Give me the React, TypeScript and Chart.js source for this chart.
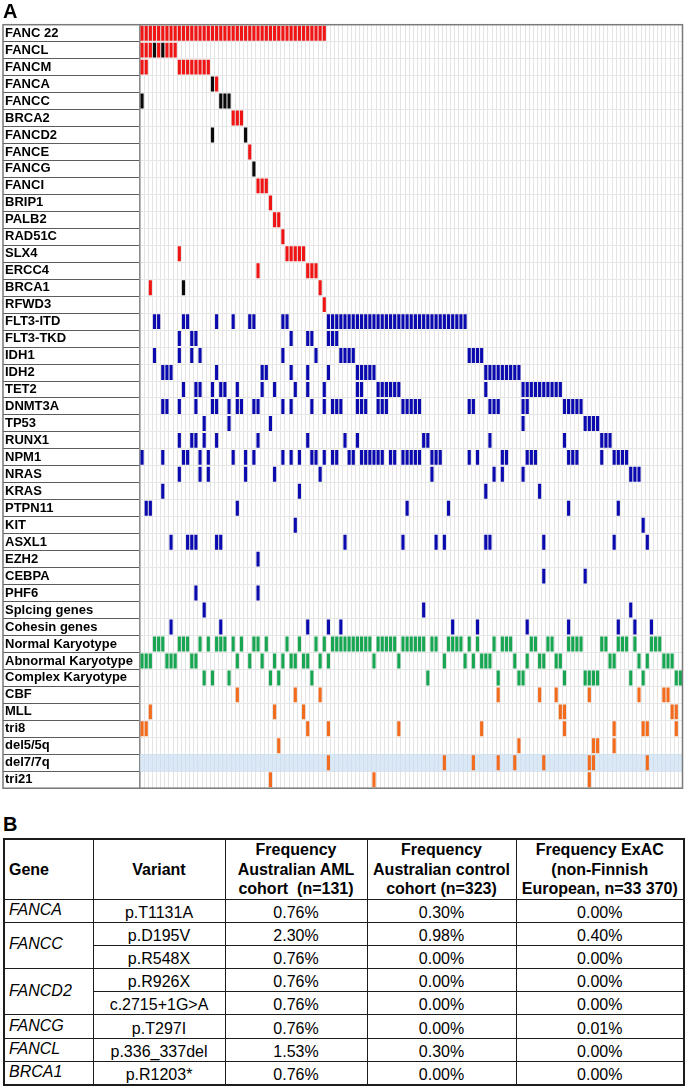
import React, { useEffect, useRef } from 'react';
import { Chart, registerables } from 'chart.js';
Chart.register(...registerables);

// ---------- Panel A data ----------
const rowLabels = [
  'FANC 22', 'FANCL', 'FANCM', 'FANCA', 'FANCC', 'BRCA2', 'FANCD2', 'FANCE', 'FANCG', 'FANCI',
  'BRIP1', 'PALB2', 'RAD51C', 'SLX4', 'ERCC4', 'BRCA1', 'RFWD3', 'FLT3-ITD', 'FLT3-TKD', 'IDH1',
  'IDH2', 'TET2', 'DNMT3A', 'TP53', 'RUNX1', 'NPM1', 'NRAS', 'KRAS', 'PTPN11', 'KIT',
  'ASXL1', 'EZH2', 'CEBPA', 'PHF6', 'Splcing genes', 'Cohesin genes', 'Normal Karyotype',
  'Abnormal Karyotype', 'Complex Karyotype', 'CBF', 'MLL', 'tri8', 'del5/5q', 'del7/7q', 'tri21',
];

const patients = Array.from({ length: 131 }, (_, i) => `P${i + 1}`);

// FANC pathway genes (red = variant, black = variant listed in table B)
const FANC22 = [0,1,2,3,4,5,6,7,8,9,10,11,12,13,14,15,16,17,18,19,20,21,22,23,24,25,26,27,28,29,30,31,32,33,34,35,36,37,38,39,40,41,42,43,44];
const FANCL_red = [0,1,2,4,6,7,8];
const FANCL_black = [3,5];
const FANCM_red = [0,1,9,10,11,12,13,14,15,16];
const FANCA_red = [18];
const FANCA_black = [17];
const FANCC_black = [0,19,20,21];
const BRCA2_red = [22,23,24];
const FANCD2_black = [17,25];
const FANCE_red = [26];
const FANCG_black = [27];
const FANCI_red = [28,29,30];
const BRIP1_red = [31];
const PALB2_red = [32,33];
const RAD51C_red = [34];
const SLX4_red = [9,35,36,37,38,39];
const ERCC4_red = [28,40,41,42];
const BRCA1_red = [2,43];
const BRCA1_black = [10];
const RFWD3_red = [44];

// AML driver genes (blue)
const FLT3ITD = [3,4,10,11,18,22,26,27,34,35,45,46,47,48,49,50,51,52,53,54,55,56,57,58,59,60,61,62,63,64,65,66,67,68,69,70,71,72,73,74,75,76,77,78];
const FLT3TKD = [9,12,13,36,40,41,45,46,47];
const IDH1 = [3,9,12,14,34,42,48,49,50,51,79,80,81,82];
const IDH2 = [5,6,7,18,29,30,36,40,45,52,53,54,55,56,83,84,85,86,87,88,89,90,91];
const TET2 = [10,13,14,17,19,20,23,29,32,37,40,44,52,53,57,58,59,60,61,62,83,92,93,94,95,96,97,98,99,100,101];
const DNMT3A = [5,6,9,13,17,18,21,23,24,27,28,34,36,41,44,46,47,48,52,53,54,57,58,59,63,64,65,66,67,79,80,84,85,86,92,93,102,103,104,105,106];
const TP53 = [15,21,31,92,107,108,109,110];
const RUNX1 = [9,12,13,15,18,28,40,49,52,68,69,84,102,111,112,113];
const NPM1 = [0,5,10,11,14,16,22,25,27,34,36,38,41,42,44,46,47,50,51,53,54,55,56,57,58,60,61,63,64,65,66,67,70,71,72,79,81,87,88,93,94,95,103,104,105,111,114,115,116,117];
const NRAS = [9,14,16,25,32,43,70,85,87,92,118,119,120];
const KRAS = [5,38,83,96];
const PTPN11 = [1,2,23,64,74,103,115];
const KIT = [37,121];
const ASXL1 = [7,11,12,13,18,19,49,63,71,73,83,84,97,114,122];
const EZH2 = [28];
const CEBPA = [97,107];
const PHF6 = [13,28];
const SPLICING = [15,68,118];
const COHESIN = [7,19,40,45,48,75,81,93,103,115,119,123];

// Karyotype (green)
const NORMAL_KARYO = [3,4,5,9,10,11,14,16,18,19,20,22,24,27,28,30,35,38,42,44,46,47,48,49,50,51,52,53,54,55,57,58,59,60,61,63,64,65,66,67,68,70,71,74,75,76,77,79,81,85,87,88,89,94,95,98,99,103,104,105,106,111,112,115,116,117,119,123,124,125];
const ABNORMAL_KARYO = [0,1,2,6,7,8,12,13,23,26,29,32,34,36,37,39,40,43,45,56,62,73,78,80,82,83,84,90,93,96,97,100,101,113,114,120,122,126,127,128];
const COMPLEX_KARYO = [15,17,21,31,33,41,69,86,91,92,102,107,108,109,110,118,121,129,130];

// Cytogenetic lesions (orange)
const CBF = [23,37,43,86,96,100,108,120,126,127];
const MLL = [2,32,39,101,102,128,129];
const TRI8 = [0,1,40,45,62,82,102,114,121,122,129];
const DEL5 = [33,91,109,110,114];
const DEL7 = [45,73,80,86,90,97,108,109,122];
const TRI21 = [31,56,108];

const RED = '#f01515';
const BLACK = '#0a0a0a';
const BLUE = '#0a0aae';
const GREEN = '#18a653';
const ORANGE = '#f36b1c';
const BAND = 'rgba(204,222,242,0.7)';

const series: [string, number[], string][] = [
  ['FANC 22', FANC22, RED],
  ['FANCL', FANCL_red, RED], ['FANCL', FANCL_black, BLACK],
  ['FANCM', FANCM_red, RED],
  ['FANCA', FANCA_red, RED], ['FANCA', FANCA_black, BLACK],
  ['FANCC', FANCC_black, BLACK],
  ['BRCA2', BRCA2_red, RED],
  ['FANCD2', FANCD2_black, BLACK],
  ['FANCE', FANCE_red, RED],
  ['FANCG', FANCG_black, BLACK],
  ['FANCI', FANCI_red, RED],
  ['BRIP1', BRIP1_red, RED],
  ['PALB2', PALB2_red, RED],
  ['RAD51C', RAD51C_red, RED],
  ['SLX4', SLX4_red, RED],
  ['ERCC4', ERCC4_red, RED],
  ['BRCA1', BRCA1_red, RED], ['BRCA1', BRCA1_black, BLACK],
  ['RFWD3', RFWD3_red, RED],
  ['FLT3-ITD', FLT3ITD, BLUE],
  ['FLT3-TKD', FLT3TKD, BLUE],
  ['IDH1', IDH1, BLUE],
  ['IDH2', IDH2, BLUE],
  ['TET2', TET2, BLUE],
  ['DNMT3A', DNMT3A, BLUE],
  ['TP53', TP53, BLUE],
  ['RUNX1', RUNX1, BLUE],
  ['NPM1', NPM1, BLUE],
  ['NRAS', NRAS, BLUE],
  ['KRAS', KRAS, BLUE],
  ['PTPN11', PTPN11, BLUE],
  ['KIT', KIT, BLUE],
  ['ASXL1', ASXL1, BLUE],
  ['EZH2', EZH2, BLUE],
  ['CEBPA', CEBPA, BLUE],
  ['PHF6', PHF6, BLUE],
  ['Splcing genes', SPLICING, BLUE],
  ['Cohesin genes', COHESIN, BLUE],
  ['Normal Karyotype', NORMAL_KARYO, GREEN],
  ['Abnormal Karyotype', ABNORMAL_KARYO, GREEN],
  ['Complex Karyotype', COMPLEX_KARYO, GREEN],
  ['CBF', CBF, ORANGE],
  ['MLL', MLL, ORANGE],
  ['tri8', TRI8, ORANGE],
  ['del5/5q', DEL5, ORANGE],
  ['del7/7q', DEL7, ORANGE],
  ['tri21', TRI21, ORANGE],
];

// ---------- Panel B data ----------
const geneCol = ['FANCA', 'FANCC', 'FANCC', 'FANCD2', 'FANCD2', 'FANCG', 'FANCL', 'BRCA1'];
const variantCol = ['p.T1131A', 'p.D195V', 'p.R548X', 'p.R926X', 'c.2715+1G>A', 'p.T297I', 'p.336_337del', 'p.R1203*'];
const freqAML = ['0.76%', '2.30%', '0.76%', '0.76%', '0.76%', '0.76%', '1.53%', '0.76%'];
const freqControl = ['0.30%', '0.98%', '0.00%', '0.00%', '0.00%', '0.00%', '0.30%', '0.00%'];
const freqExAC = ['0.00%', '0.40%', '0.00%', '0.00%', '0.00%', '0.01%', '0.00%', '0.00%'];
const headerLines = [
  ['Gene'],
  ['Variant'],
  ['Frequency', 'Australian AML', 'cohort\u00a0 (n=131)'],
  ['Frequency', 'Australian control', 'cohort (n=323)'],
  ['Frequency ExAC', '(non-Finnish', 'European, n=33 370)'],
];
const colWidths = [89, 132, 142, 149, 168];

const FONT = '"Liberation Sans", Arial, Helvetica, sans-serif';

const framePlugin = {
  id: 'frame',
  afterDraw(chart: any) {
    const { ctx, chartArea } = chart;
    const yl = chart.scales.yl;
    ctx.save();
    ctx.strokeStyle = '#7a7a7a';
    ctx.lineWidth = 1.5;
    const left = yl.left - 2;
    ctx.strokeRect(left, chartArea.top, chartArea.right - left, chartArea.bottom - chartArea.top);
    ctx.restore();
  },
};

function Oncoprint() {
  const ref = useRef<HTMLCanvasElement>(null);
  useEffect(() => {
    if (!ref.current) return;
    const bandRow = rowLabels.indexOf('del7/7q');
    const datasets: any[] = [
      {
        label: 'del7/7q band',
        data: patients.map(() => [bandRow, bandRow + 1]),
        backgroundColor: BAND,
        barPercentage: 1,
        categoryPercentage: 1,
        grouped: false,
        order: 10,
        yAxisID: 'y',
      },
    ];
    series.forEach(([label, cols, color]) => {
      const r = rowLabels.indexOf(label);
      datasets.push({
        label,
        data: patients.map((_, i) => (cols.includes(i) ? [r + 0.06, r + 0.94] : null)),
        backgroundColor: color,
        borderWidth: 0,
        barPercentage: 0.76,
        categoryPercentage: 1,
        grouped: false,
        order: 1,
        yAxisID: 'y',
      });
    });
    const chart = new Chart(ref.current, {
      type: 'bar',
      data: { labels: patients, datasets },
      options: {
        responsive: false,
        animation: false,
        layout: { padding: { top: 24.7, left: 5, right: 2.5, bottom: 3.7 } },
        plugins: { legend: { display: false }, tooltip: { enabled: false } },
        scales: {
          x: {
            type: 'category',
            position: 'bottom',
            offset: true,
            ticks: { display: false },
            grid: { offset: true, drawTicks: false, color: '#e4e4e4', lineWidth: 1 },
            border: { display: false },
            afterFit: (s: any) => { s.height = 0; },
          },
          y: { type: 'linear', display: false, min: 0, max: rowLabels.length, reverse: true },
          yl: {
            type: 'category',
            labels: rowLabels,
            position: 'left',
            offset: true,
            grid: {
              offset: true,
              drawTicks: true,
              tickLength: 137,
              color: '#e6e6e6',
              tickColor: '#5c5c5c',
              lineWidth: 1,
              tickWidth: 1,
            },
            ticks: {
              autoSkip: false,
              crossAlign: 'far',
              padding: 0,
              color: '#000',
              font: { family: FONT, weight: 'bold', size: 13 },
            },
            border: { display: true, color: '#8a8a8a', width: 1.5 },
            afterFit: (s: any) => { s.width = 135; },
          },
        },
      } as any,
      plugins: [framePlugin],
    });
    return () => chart.destroy();
  }, []);
  return <canvas ref={ref} width={685} height={796} style={{ display: 'block' }} />;
}

function FreqTable() {
  const border = '1.5px solid #1c1c1c';
  const cell: React.CSSProperties = {
    border,
    padding: 0,
    paddingTop: 4.2,
    fontSize: 16,
    lineHeight: '18px',
    textAlign: 'center',
    verticalAlign: 'middle',
    whiteSpace: 'nowrap',
    boxSizing: 'content-box',
  };
  const rows = geneCol.map((g, i) => {
    const first = i === 0 || geneCol[i - 1] !== g;
    let span = 1;
    while (first && geneCol[i + span] === g) span++;
    return (
      <tr key={i}>
        {first && (
          <td rowSpan={span} style={{ ...cell, textAlign: 'left', fontStyle: 'italic', paddingLeft: 4, paddingTop: 0, paddingBottom: 2 }}>{g}</td>
        )}
        <td style={cell}>{variantCol[i]}</td>
        <td style={cell}>{freqAML[i]}</td>
        <td style={cell}>{freqControl[i]}</td>
        <td style={cell}>{freqExAC[i]}</td>
      </tr>
    );
  });
  return (
    <table
      style={{
        position: 'absolute',
        top: 838,
        left: 3,
        width: 680,
        borderCollapse: 'collapse',
        tableLayout: 'fixed',
        fontFamily: FONT,
        color: '#000',
        border: '2px solid #1c1c1c',
      }}
    >
      <colgroup>
        {colWidths.map((w, i) => <col key={i} style={{ width: w }} />)}
      </colgroup>
      <thead>
        <tr>
          {headerLines.map((lines, i) => (
            <th
              key={i}
              style={{
                border,
                padding: 0,
                paddingLeft: i === 0 ? 4 : 0,
                fontSize: 16,
                fontWeight: 'bold',
                lineHeight: '19.5px',
                height: 58.5,
                textAlign: i === 0 ? 'left' : 'center',
                verticalAlign: 'middle',
                whiteSpace: 'nowrap',
              }}
            >
              {lines.map((l, j) => (
                <React.Fragment key={j}>
                  {j > 0 && <br />}
                  {l}
                </React.Fragment>
              ))}
            </th>
          ))}
        </tr>
      </thead>
      <tbody>{rows}</tbody>
    </table>
  );
}

export default function App() {
  return (
    <div style={{ position: 'relative', width: 685, height: 1086, background: '#fff', fontFamily: FONT, overflow: 'hidden' }}>
      <style>{'body{margin:0;background:#fff;}'}</style>
      <Oncoprint />
      <div style={{ position: 'absolute', left: 3, top: 0, fontSize: 20, fontWeight: 'bold', fontFamily: FONT, lineHeight: '22px' }}>A</div>
      <div style={{ position: 'absolute', left: 3, top: 813, fontSize: 20, fontWeight: 'bold', fontFamily: FONT, lineHeight: '22px' }}>B</div>
      <FreqTable />
    </div>
  );
}
